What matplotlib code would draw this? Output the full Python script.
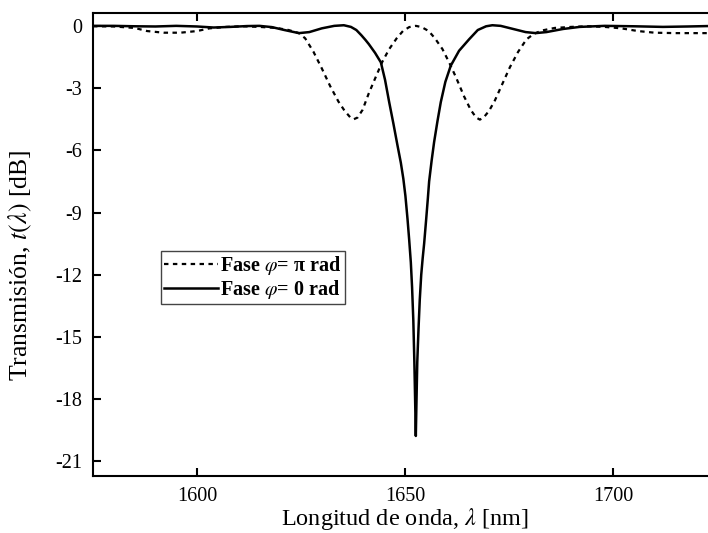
import matplotlib
matplotlib.use("Agg")
import matplotlib.pyplot as plt

plt.rcParams['font.family'] = ['Liberation Serif', 'DejaVu Serif']
plt.rcParams['mathtext.fontset'] = 'stix'
plt.rcParams['axes.unicode_minus'] = False

# Fase phi = pi rad (dashed)
wl_pi = [1575, 1580, 1585, 1588, 1592, 1596, 1600, 1603, 1607, 1611, 1615, 1619, 1622,
         1624.5, 1626, 1628, 1630, 1632, 1634, 1635.5, 1636.8, 1637.7, 1638.6, 1639.8,
         1641.3, 1643, 1644.5, 1646.2, 1648, 1649.5, 1651, 1652.6, 1654, 1655.7, 1657.2,
         1659, 1660.7, 1662.3, 1664.2, 1665.8, 1667.1, 1668, 1668.9, 1670.2, 1671.6,
         1673.4, 1675.2, 1677.2, 1679.2, 1681, 1683, 1686, 1690, 1694, 1698, 1702, 1706,
         1710, 1715, 1720, 1725]
t_pi = [-0.02, -0.03, -0.1, -0.25, -0.33, -0.33, -0.25, -0.12, -0.05, -0.02, -0.05, -0.1, -0.2,
        -0.35, -0.6, -1.25, -2.05, -2.9, -3.65, -4.1, -4.4, -4.5, -4.42, -4.05,
        -3.25, -2.45, -1.75, -1.12, -0.6, -0.25, -0.06, 0.0, -0.06, -0.25, -0.6,
        -1.12, -1.8, -2.5, -3.4, -4.05, -4.42, -4.52, -4.42, -4.1, -3.6,
        -2.8, -2.0, -1.25, -0.65, -0.38, -0.22, -0.1, -0.05, -0.02, -0.05, -0.12, -0.25,
        -0.33, -0.35, -0.35, -0.35]

# Fase phi = 0 rad (solid)
wl_0 = [1575, 1580, 1585, 1590, 1595, 1600, 1604, 1608, 1612, 1615, 1618, 1621, 1624.5,
        1627, 1630, 1633, 1635.3, 1637.0, 1638.3, 1639.5, 1640.5, 1641.3, 1642.8, 1644.2,
        1645.2, 1646.2, 1647.2, 1648.2, 1649.0, 1649.6, 1650.1, 1650.6, 1651.0, 1651.4,
        1651.7, 1652.0, 1652.25, 1652.45, 1652.6, 1652.75, 1652.95, 1653.25, 1653.55,
        1653.9, 1654.25, 1654.6, 1655.1, 1655.5, 1655.8, 1656.4, 1657.0, 1657.8, 1658.6,
        1659.7, 1661.0, 1663.0, 1665.4, 1667.5, 1669.5, 1671, 1673, 1676, 1679, 1681.4,
        1684, 1688, 1692, 1698, 1705, 1712, 1718, 1725]
t_0 = [0.0, 0.0, -0.02, -0.03, 0.0, -0.03, -0.08, -0.05, -0.01, 0.0, -0.06, -0.2, -0.35,
       -0.3, -0.12, 0.0, 0.03, -0.05, -0.2, -0.45, -0.68, -0.88, -1.3, -1.76,
       -2.6, -3.68, -4.7, -5.77, -6.6, -7.37, -8.2, -9.3, -10.3, -11.4,
       -12.6, -14.2, -16.2, -18.2, -19.77, -18.2, -16.2, -14.6, -13.2,
       -12.0, -11.2, -10.5, -9.3, -8.3, -7.5, -6.5, -5.6, -4.6, -3.68,
       -2.7, -1.92, -1.2, -0.65, -0.2, -0.02, 0.03, 0.0, -0.15, -0.3, -0.35,
       -0.3, -0.15, -0.05, 0.0, -0.02, -0.05, -0.03, 0.0]

xticks = [1600, 1650, 1700]
yticks = [0, -3, -6, -9, -12, -15, -18, -21]
ytick_labels = ['0', '-3', '-6', '-9', '-12', '-15', '-18', '-21']

fig = plt.figure(figsize=(7.08, 5.33), dpi=100)
ax = fig.add_axes([93/708, 57/533, 624/708, 463/533])

ax.plot(wl_pi, t_pi, color='black', lw=1.6, linestyle=(0, (2, 2)), label='Fase $\\varphi$= π rad')
ax.plot(wl_0, t_0, color='black', lw=1.8, linestyle='-', label='Fase $\\varphi$= 0 rad')

ax.set_xlim(1575, 1725)
ax.set_ylim(-21.7, 0.62)
ax.set_xticks(xticks)
ax.set_xticklabels([str(v) for v in xticks])
ax.set_yticks(yticks)
ax.set_yticklabels(ytick_labels)

ax.tick_params(direction='in', length=6, width=1.5, labelsize=14.5, top=True, right=True)
ax.tick_params(axis='x', pad=8)
ax.tick_params(axis='y', pad=8)
for s in ax.spines.values():
    s.set_linewidth(1.5)

ax.set_xlabel(r'Longitud de onda, $\lambda$ [nm]', fontsize=17.5, labelpad=0)
ax.set_ylabel(r'Transmisión, $t(\lambda)$ [dB]', fontsize=18.5)
ax.yaxis.set_label_coords(-0.094, 0.454)

leg = ax.legend(loc='upper left', bbox_to_anchor=(0.109, 0.486), borderaxespad=0,
                frameon=True, fancybox=False, edgecolor='#444444', framealpha=1,
                prop={'weight': 'bold', 'size': 14.5}, handlelength=2.7, handletextpad=0.1,
                borderpad=0.15, labelspacing=0.05)
leg.get_frame().set_linewidth(1.0)

fig.savefig('out.png', dpi=100)
